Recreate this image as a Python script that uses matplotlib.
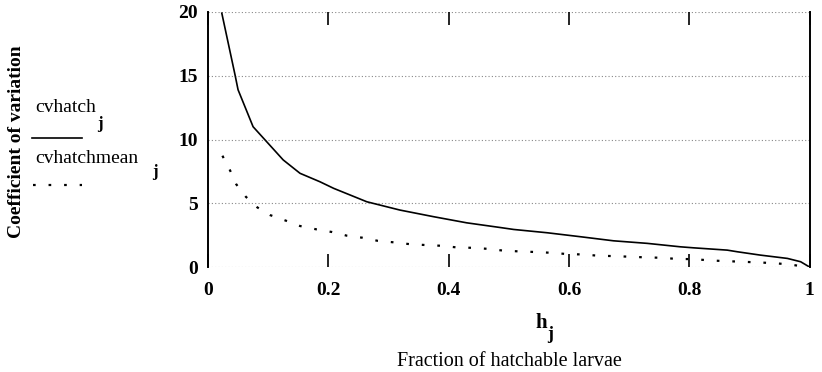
import matplotlib
matplotlib.use("Agg")
from matplotlib import pyplot as plt

plt.rcParams['font.family'] = ['Liberation Serif', 'DejaVu Serif']

# values
h_solid = [0.023, 0.045, 0.05, 0.075, 0.095, 0.125, 0.153, 0.186, 0.209, 0.264, 0.319,
           0.375, 0.43, 0.486, 0.508, 0.564, 0.619, 0.674, 0.73, 0.785, 0.807, 0.863,
           0.88, 0.918, 0.963, 0.985, 1.0]
cvhatch = [19.9, 15.06, 13.9, 11.0, 9.96, 8.4, 7.35, 6.69, 6.17, 5.12, 4.47,
           3.95, 3.47, 3.1, 2.95, 2.69, 2.38, 2.06, 1.86, 1.59, 1.51, 1.33,
           1.2, 0.94, 0.68, 0.42, 0.0]

h_dot = [0.024, 0.037, 0.047, 0.063, 0.082, 0.103, 0.13, 0.153, 0.18, 0.206, 0.231,
         0.257, 0.282, 0.309, 0.335, 0.361, 0.388, 0.414, 0.44, 0.465, 0.493, 0.518,
         0.545, 0.571, 0.597, 0.623, 0.649, 0.676, 0.702, 0.728, 0.755, 0.781, 0.807,
         0.834, 0.86, 0.887, 0.913, 0.94, 0.966, 0.985, 1.0]
cvhatchmean = [8.73, 7.55, 6.49, 5.51, 4.68, 4.08, 3.63, 3.22, 2.96, 2.75, 2.46,
               2.3, 2.06, 1.94, 1.8, 1.73, 1.67, 1.54, 1.51, 1.43, 1.28, 1.23,
               1.18, 1.12, 1.02, 0.99, 0.89, 0.86, 0.81, 0.76, 0.73, 0.63, 0.63,
               0.52, 0.47, 0.42, 0.37, 0.31, 0.21, 0.08, 0.0]

xticks = [0, 0.2, 0.4, 0.6, 0.8, 1]
xticklabels = ['0', '0.2', '0.4', '0.6', '0.8', '1']
yticks = [0, 5, 10, 15, 20]

fig = plt.figure(figsize=(8.22, 3.72), dpi=100)
ax = fig.add_axes([0.253, 0.282, 0.732, 0.686])

dots = (0, (1.2, 5.8))
ax.plot(h_solid, cvhatch, color='black', lw=1.2)
ax.plot(h_dot, cvhatchmean, color='black', lw=1.6, linestyle=dots)

ax.set_xlim(0, 1)
ax.set_ylim(0, 20)
ax.set_xticks(xticks)
ax.set_xticklabels(xticklabels)
ax.set_yticks(yticks)
for y in yticks:
    ax.axhline(y, color='#888888', lw=0.8, linestyle=(0, (1, 2)), zorder=0)

ax.spines['top'].set_visible(False)
ax.spines['bottom'].set_visible(False)
ax.spines['left'].set_linewidth(1.4)
ax.spines['right'].set_linewidth(1.4)
ax.tick_params(axis='x', direction='in', length=9.5, width=1.2, top=True,
               labelsize=14, pad=11)
ax.tick_params(axis='y', length=0, labelsize=14, pad=7)
for t in ax.get_xticklabels() + ax.get_yticklabels():
    t.set_fontweight('bold')

# x axis title: h with subscript j, then description
fig.text(0.659, 0.132, 'h', ha='center', va='center', fontsize=15, fontweight='bold')
fig.text(0.669, 0.100, 'j', ha='center', va='center', fontsize=13, fontweight='bold')
fig.text(0.62, 0.028, 'Fraction of hatchable larvae', ha='center', va='center', fontsize=14.5)
fig.text(0.0195, 0.62, 'Coefficient of variation', rotation=90, ha='center',
         va='center', fontsize=14, fontweight='bold')

# legend block to the left of the axes
fig.text(0.043, 0.712, 'cvhatch', ha='left', va='center', fontsize=14)
fig.text(0.122, 0.667, 'j', ha='center', va='center', fontsize=12, fontweight='bold')
fig.lines.append(plt.Line2D([0.039, 0.1], [0.629, 0.629], color='black', lw=1.2,
                            transform=fig.transFigure))
fig.text(0.043, 0.575, 'cvhatchmean', ha='left', va='center', fontsize=14)
fig.text(0.188, 0.538, 'j', ha='center', va='center', fontsize=12, fontweight='bold')
fig.lines.append(plt.Line2D([0.04, 0.1], [0.503, 0.503], color='black', lw=1.6,
                            linestyle=dots, transform=fig.transFigure))

fig.savefig('out.png', dpi=100)
